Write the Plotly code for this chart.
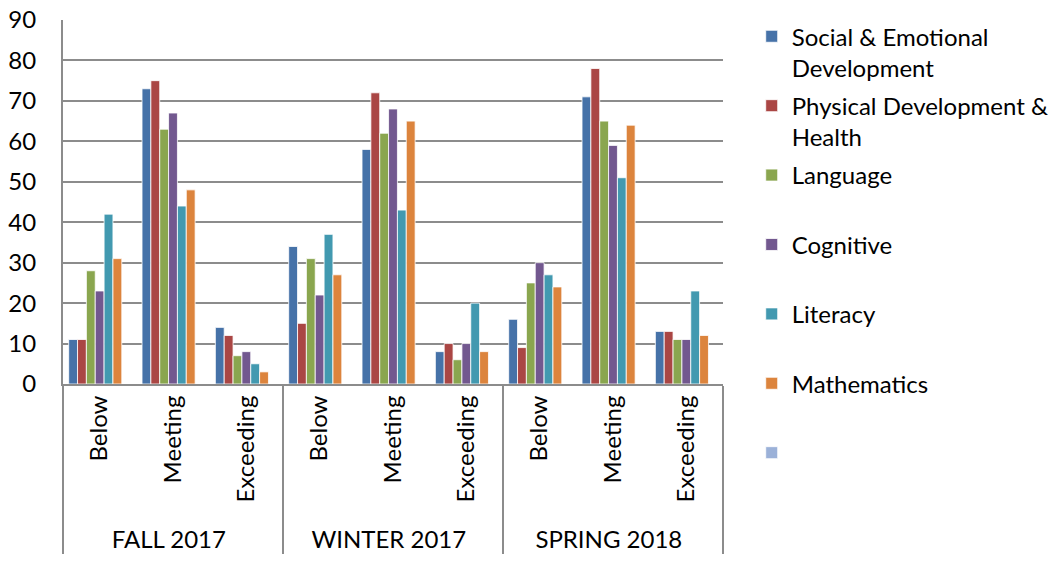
import plotly.graph_objects as go

periods = ["FALL 2017", "WINTER 2017", "SPRING 2018"]
levels = ["Below", "Meeting", "Exceeding"]

series_names = [
    "Social & Emotional<br>Development",
    "Physical Development &<br>Health",
    "Language",
    "Cognitive",
    "Literacy",
    "Mathematics",
    "",
]
social = [11, 73, 14, 34, 58, 8, 16, 71, 13]
physical = [11, 75, 12, 15, 72, 10, 9, 78, 13]
language = [28, 63, 7, 31, 62, 6, 25, 65, 11]
cognitive = [23, 67, 8, 22, 68, 10, 30, 59, 11]
literacy = [42, 44, 5, 37, 43, 20, 27, 51, 23]
mathematics = [31, 48, 3, 27, 65, 8, 24, 64, 12]
empty = [None] * 9

colors = ["#4672A8", "#AA4644", "#8AA64F", "#72588F", "#4299B0", "#DC843D", "#9BB1D8"]

outer = [p for p in periods for _ in levels]
inner = [l for _ in periods for l in levels]

FONT = "Lato"
fig = go.Figure()
all_vals = [social, physical, language, cognitive, literacy, mathematics, empty]
for i, (name, vals) in enumerate(zip(series_names, all_vals)):
    label = name if "<br>" in name else name + "<br> "
    fig.add_trace(go.Bar(
        x=[outer, inner], y=vals, name=label,
        marker=dict(color=colors[i], line=dict(color="white", width=0.8)),
        legendgroup=str(i), showlegend=True,
    ))

fig.update_layout(
    width=1060, height=563,
    margin=dict(l=63, r=337, t=20, b=179, autoexpand=False),
    paper_bgcolor="white", plot_bgcolor="white",
    barmode="group", bargap=0.155, bargroupgap=0,
    font=dict(family=FONT, size=24, color="black"),
    legend=dict(
        x=1.0435, xanchor="left", y=1.016, yanchor="top",
        valign="top", font=dict(size=24), tracegroupgap=4,
        bgcolor="rgba(0,0,0,0)", maxheight=550,
    ),
)
fig.update_xaxes(
    type="multicategory", tickangle=-90, showgrid=False, automargin=False,
    showline=True, linecolor="#8C8C8C", linewidth=2,
    showdividers=True, dividercolor="#8C8C8C", dividerwidth=2,
    ticks="", tickfont=dict(size=24),
)
fig.update_yaxes(
    range=[0, 90], dtick=10, showgrid=True, gridcolor="#8C8C8C", gridwidth=2,
    showline=True, linecolor="#8C8C8C", linewidth=2, zeroline=False, automargin=False,
    ticks="", ticklabelstandoff=20, tickfont=dict(size=24),
)
fig.write_html(
    "out.html",
    config={"displayModeBar": False},
    post_script="document.body.style.margin='0';document.body.style.overflow='hidden';",
)
